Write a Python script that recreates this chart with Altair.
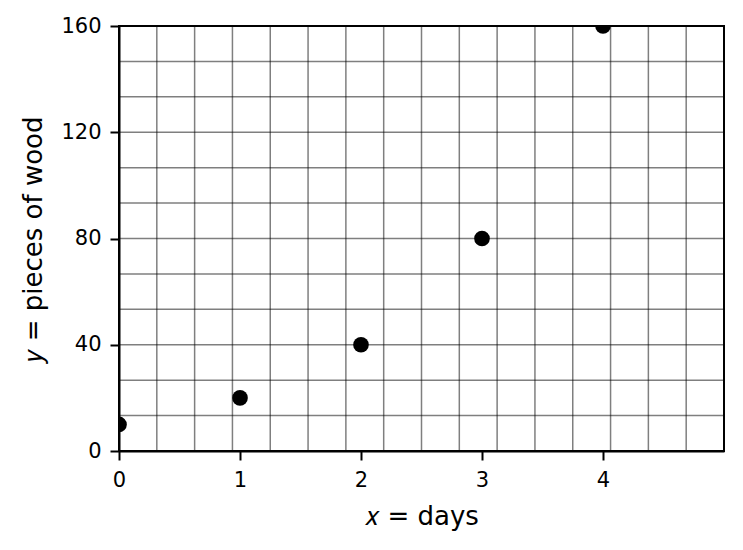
import altair as alt
import pandas as pd

# data
days = [0, 1, 2, 3, 4]
wood = [10, 20, 40, 80, 160]

x_ticks = [0, 1, 2, 3, 4]
y_ticks = [0, 40, 80, 120, 160]

x_grid = [0.3125, 0.625, 0.9375, 1.25, 1.5625, 1.875, 2.1875, 2.5,
          2.8125, 3.125, 3.4375, 3.75, 4.0625, 4.375, 4.6875]
y_grid = [13.333, 26.667, 40, 53.333, 66.667, 80, 93.333, 106.667,
          120, 133.333, 146.667]

pts = pd.DataFrame({"x": days, "y": wood})

xs = alt.Scale(domain=[0, 5], nice=False, zero=False)
ys = alt.Scale(domain=[0, 160], nice=False)

x_axis = alt.Axis(values=x_ticks, title="𝑥 = days", grid=False, format="d",
                  titlePadding=13, labelFlush=False)
y_axis = alt.Axis(values=y_ticks, title="𝑦 = pieces of wood", grid=False, format="d",
                  titlePadding=14, labelFlush=False)

vgrid = alt.Chart(pd.DataFrame({"gx": x_grid})).mark_rule(
    color="black", opacity=0.5, strokeWidth=1.5
).encode(x=alt.X("gx:Q", scale=xs, axis=x_axis))

hgrid = alt.Chart(pd.DataFrame({"gy": y_grid})).mark_rule(
    color="black", opacity=0.5, strokeWidth=1.5
).encode(y=alt.Y("gy:Q", scale=ys, axis=y_axis))

points = alt.Chart(pts).mark_circle(
    color="black", opacity=1, size=245, clip=True
).encode(
    x=alt.X("x:Q", scale=xs, axis=x_axis),
    y=alt.Y("y:Q", scale=ys, axis=y_axis),
)

chart = alt.layer(vgrid, hgrid, points).properties(
    width=605,
    height=425,
    padding={"left": 111, "top": 18, "right": 10, "bottom": 80},
    autosize=alt.AutoSizeParams(type="none"),
    background="white",
).configure_view(
    stroke="black", strokeWidth=2
).configure_axis(
    labelFont="DejaVu Sans",
    titleFont="DejaVu Sans",
    labelFontSize=21,
    titleFontSize=26,
    titleFontWeight="normal",
    labelColor="black",
    titleColor="black",
    tickColor="black",
    tickSize=9,
    tickWidth=2,
    domainColor="black",
    domainWidth=2,
    labelPadding=9,
)

chart.save("out.html", embed_options={"renderer": "svg", "actions": False})
